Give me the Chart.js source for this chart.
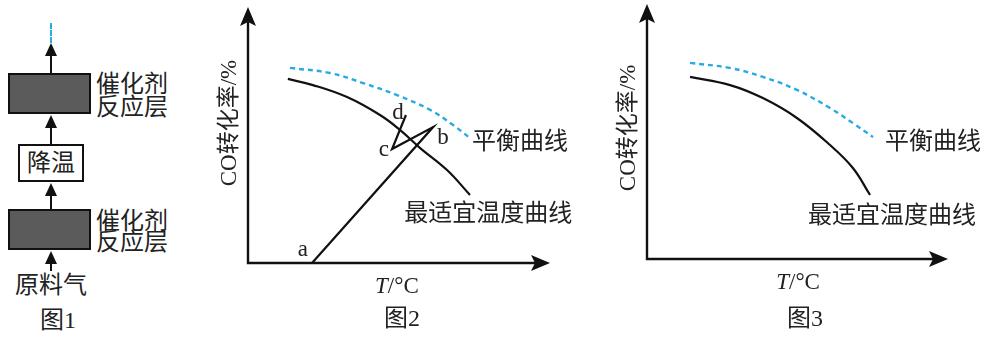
<!DOCTYPE html>
<html>
<head>
<meta charset="utf-8">
<script src="https://cdn.jsdelivr.net/npm/chart.js@4.4.1/dist/chart.umd.min.js"></script>
<style>
  html, body { margin: 0; padding: 0; background: #fff; }
  body { width: 985px; height: 338px; position: relative; overflow: hidden;
         font-family: "Liberation Serif", "Noto Sans CJK SC", serif; color: #222; }
  .abs { position: absolute; }
  .box { position: absolute; box-sizing: border-box; border: 2px solid #111; }
  .dark { background: #5b5b5b; }
  .shaft { position: absolute; width: 2px; background: #111; }
  .head { position: absolute; width: 0; height: 0;
          border-left: 6px solid transparent; border-right: 6px solid transparent;
          border-bottom: 13px solid #111; }
  .txt { position: absolute; font-size: 24px; line-height: 26px; white-space: nowrap; }
  .chartbox { position: absolute; top: 0; height: 338px; }
</style>
</head>
<body>

<!-- 图1: flow diagram -->
<div class="abs" style="left:50px;top:23px;height:20px;border-left:2px dashed #29abe2;"></div>

<div class="head" style="left:45px;top:43px;"></div>
<div class="shaft" style="left:50px;top:55px;height:18px;"></div>
<div class="box dark" style="left:8px;top:73px;width:83px;height:41px;"></div>
<div class="txt" style="left:96px;top:71px;">催化剂</div>
<div class="txt" style="left:96px;top:94px;">反应层</div>

<div class="head" style="left:45px;top:115px;"></div>
<div class="shaft" style="left:50px;top:127px;height:17px;"></div>
<div class="box" style="left:18px;top:144px;width:66px;height:38px;background:#fff;"></div>
<div class="txt" style="left:18px;top:150px;width:66px;text-align:center;">降温</div>

<div class="head" style="left:45px;top:183px;"></div>
<div class="shaft" style="left:50px;top:195px;height:14px;"></div>
<div class="box dark" style="left:8px;top:209px;width:83px;height:41px;"></div>
<div class="txt" style="left:96px;top:208px;">催化剂</div>
<div class="txt" style="left:96px;top:229px;">反应层</div>

<div class="head" style="left:45px;top:251px;"></div>
<div class="shaft" style="left:50px;top:262px;height:9px;"></div>
<div class="txt" style="left:15px;top:272px;">原料气</div>
<div class="txt" style="left:18px;top:307px;width:80px;text-align:center;">图1</div>

<div class="chartbox" style="left:200px;width:400px;"><canvas id="fig2" width="400" height="338"></canvas></div>
<div class="chartbox" style="left:600px;width:385px;"><canvas id="fig3" width="385" height="338"></canvas></div>

<script>
// 图2 — arbitrary units, 0..100 on both axes
const fig2EqX = [13.9, 27.2, 38.1, 49.3, 60.3, 67.9, 73.5];
const fig2EqY = [76.2, 74.2, 70.3, 65.6, 59.8, 53.9, 48.8];
const fig2OptX = [13.2, 21.5, 32.8, 43.7, 50.3, 57.0, 65.9, 73.5];
const fig2OptY = [71.9, 69.5, 64.8, 57.8, 52.0, 44.9, 36.3, 26.6];
const fig2PathNames = ["a", "b", "c", "d"];
const fig2PathX = [21.2, 61.3, 47.7, 52.3];
const fig2PathY = [0, 53.1, 44.5, 57.8];

// 图3
const fig3EqX = [14.3, 27.6, 38.5, 49.8, 60.8, 68.4, 75.1];
const fig3EqY = [76.9, 74.9, 71.4, 66.3, 59.2, 53.3, 47.8];
const fig3OptX = [14.3, 27.6, 38.5, 49.8, 60.8, 68.4, 74.1];
const fig3OptY = [71.4, 68.2, 63.1, 55.3, 44.7, 35.7, 25.1];

const eqName = "平衡曲线";
const optName = "最适宜温度曲线";
const yTitle = "CO转化率/%";

const pts = (xs, ys) => xs.map((x, i) => ({ x: x, y: ys[i] }));
const FONT = '"Liberation Serif", "Noto Sans CJK SC", serif';

// axes with arrows + free text, drawn on top of the chart area
const sketchPlugin = {
    id: 'sketch',
    afterDraw(chart, args, opts) {
        const ctx = chart.ctx;
        const a = chart.chartArea;
        const xs = chart.scales.x, ys = chart.scales.y;
        ctx.save();
        ctx.strokeStyle = '#111';
        ctx.fillStyle = '#111';
        ctx.lineWidth = 2.4;
        ctx.beginPath();
        ctx.moveTo(a.left, a.top + 14);
        ctx.lineTo(a.left, a.bottom);
        ctx.lineTo(a.right - 14, a.bottom);
        ctx.stroke();
        // arrow heads
        ctx.beginPath();
        ctx.moveTo(a.left, a.top);
        ctx.lineTo(a.left - 8, a.top + 19);
        ctx.lineTo(a.left, a.top + 15);
        ctx.lineTo(a.left + 8, a.top + 19);
        ctx.closePath();
        ctx.fill();
        ctx.beginPath();
        ctx.moveTo(a.right, a.bottom);
        ctx.lineTo(a.right - 19, a.bottom - 8);
        ctx.lineTo(a.right - 15, a.bottom);
        ctx.lineTo(a.right - 19, a.bottom + 8);
        ctx.closePath();
        ctx.fill();

        ctx.fillStyle = '#222';
        ctx.textBaseline = 'middle';
        (opts.labels || []).forEach(l => {
            ctx.font = (l.size || 24) + 'px ' + FONT;
            ctx.textAlign = l.align || 'center';
            ctx.fillText(l.text, xs.getPixelForValue(l.x), ys.getPixelForValue(l.y));
        });

        // y title, rotated
        ctx.save();
        ctx.font = '23px ' + FONT;
        ctx.translate(xs.getPixelForValue(opts.yTitleAt[0]), ys.getPixelForValue(opts.yTitleAt[1]));
        ctx.rotate(-Math.PI / 2);
        ctx.textAlign = 'center';
        ctx.fillText(yTitle, 0, 0);
        ctx.restore();

        // x title: italic T + /°C
        const tx = xs.getPixelForValue(opts.xTitleAt[0]);
        const ty = ys.getPixelForValue(opts.xTitleAt[1]);
        ctx.font = 'italic 23px ' + FONT;
        const wT = ctx.measureText('T').width;
        ctx.font = '23px ' + FONT;
        const wR = ctx.measureText('/°C').width;
        ctx.textAlign = 'left';
        ctx.font = 'italic 23px ' + FONT;
        ctx.fillText('T', tx - (wT + wR) / 2, ty);
        ctx.font = '23px ' + FONT;
        ctx.fillText('/°C', tx - (wT + wR) / 2 + wT, ty);

        ctx.font = '24px ' + FONT;
        ctx.textAlign = 'center';
        ctx.fillText(opts.caption, xs.getPixelForValue(opts.captionAt[0]), ys.getPixelForValue(opts.captionAt[1]));
        ctx.restore();
    }
};

function makeChart(id, datasets, padding, sketch) {
    return new Chart(document.getElementById(id), {
        type: 'scatter',
        data: { datasets: datasets },
        options: {
            responsive: false,
            animation: false,
            layout: { padding: padding },
            plugins: { legend: { display: false }, tooltip: { enabled: false }, sketch: sketch },
            scales: {
                x: { type: 'linear', min: 0, max: 100, display: false },
                y: { type: 'linear', min: 0, max: 100, display: false }
            }
        },
        plugins: [sketchPlugin]
    });
}

const eqStyle = { showLine: true, borderColor: '#29abe2', borderWidth: 2.4, borderDash: [5, 4],
                  pointRadius: 0, tension: 0.4, clip: false };
const optStyle = { showLine: true, borderColor: '#111', borderWidth: 2.2, pointRadius: 0,
                   tension: 0.4, clip: false };

makeChart('fig2', [
    Object.assign({ label: eqName, data: pts(fig2EqX, fig2EqY) }, eqStyle),
    Object.assign({ label: optName, data: pts(fig2OptX, fig2OptY) }, optStyle),
    { label: 'abcd', data: pts(fig2PathX, fig2PathY), showLine: true, borderColor: '#111',
      borderWidth: 2.2, pointRadius: 0, tension: 0, clip: false }
], { left: 48, top: 7, right: 50, bottom: 75 }, {
    labels: [
        { text: eqName, x: 74.2, y: 46.9, align: 'left' },
        { text: optName, x: 51.7, y: 18.8, align: 'left' },
        { text: fig2PathNames[0], x: 18.2, y: 5.1, size: 23 },
        { text: fig2PathNames[1], x: 64.6, y: 48.8, size: 23 },
        { text: fig2PathNames[2], x: 45.0, y: 44.1, size: 23 },
        { text: fig2PathNames[3], x: 49.7, y: 58.6, size: 23 }
    ],
    yTitleAt: [-6.0, 54.7],
    xTitleAt: [49.3, -9.4],
    caption: '图2',
    captionAt: [51.0, -22.3]
});

makeChart('fig3', [
    Object.assign({ label: eqName, data: pts(fig3EqX, fig3EqY) }, eqStyle),
    Object.assign({ label: optName, data: pts(fig3OptX, fig3OptY) }, optStyle)
], { left: 47, top: 4, right: 37, bottom: 79 }, {
    labels: [
        { text: eqName, x: 79.1, y: 45.5, align: 'left' },
        { text: optName, x: 53.5, y: 16.5, align: 'left' }
    ],
    yTitleAt: [-6.0, 51.4],
    xTitleAt: [50.2, -9.4],
    caption: '图3',
    captionAt: [52.5, -23.9]
});
</script>
</body>
</html>
